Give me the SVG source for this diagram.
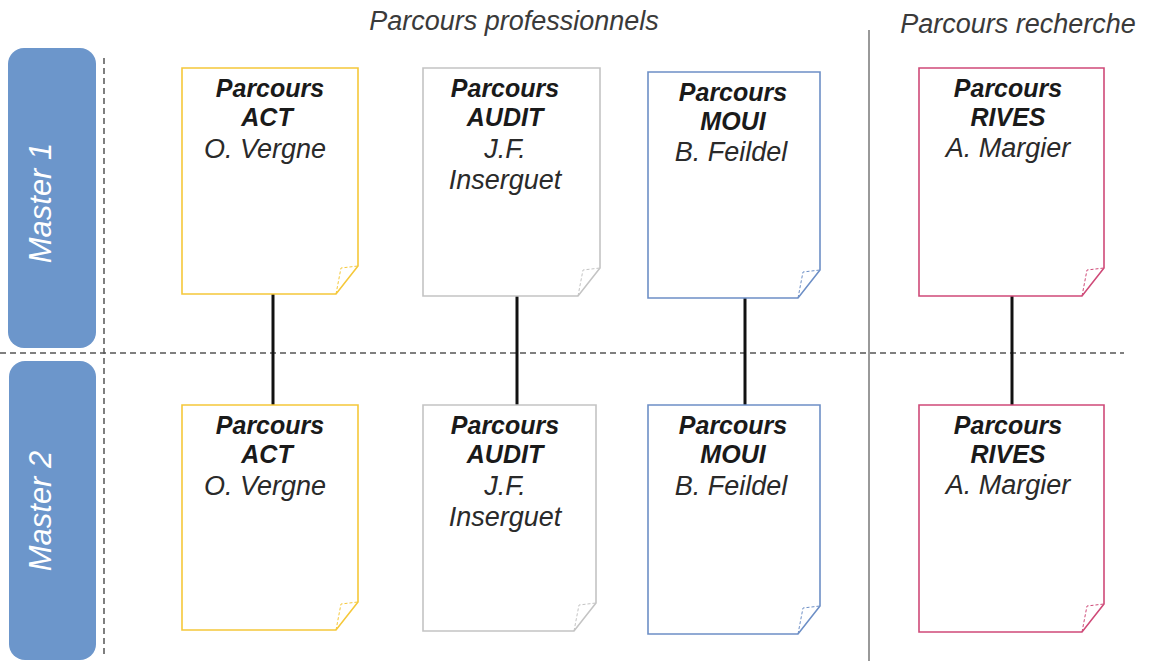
<svg xmlns="http://www.w3.org/2000/svg" width="1149" height="661" viewBox="0 0 1149 661">
<style>
.bg{fill:#ffffff}
.doc{fill:#ffffff;stroke-width:1.6}
.fold{fill:none;stroke-width:1;stroke-dasharray:3,2}
.y{stroke:#f5c83a}
.g{stroke:#c4c4c4}
.b{stroke:#6d8fc6}
.p{stroke:#cf4a78}
.t1{font-family:"Liberation Sans",Arial,sans-serif;font-style:italic;font-weight:bold;font-size:25px;fill:#1a1a1a;text-anchor:middle}
.t2{font-family:"Liberation Sans",Arial,sans-serif;font-style:italic;font-size:27px;fill:#2a2a2a;text-anchor:middle}
.hdr{font-family:"Liberation Sans",Arial,sans-serif;font-style:italic;font-size:27px;fill:#3a3a3a;text-anchor:middle}
.mbox{fill:#6c96cb}
.mtxt{font-family:"Liberation Sans",Arial,sans-serif;font-style:italic;font-size:31px;fill:#ffffff;text-anchor:middle}
.dash{stroke:#555555;stroke-width:1.5;stroke-dasharray:6,4;fill:none}
.conn{stroke:#111111;stroke-width:3;fill:none}
</style>
<rect class="bg" x="0" y="0" width="1149" height="661"/>

<g id="headers">
<text class="hdr" x="514" y="30">Parcours professionnels</text>
<text class="hdr" x="1018" y="33">Parcours recherche</text>
</g>

<g id="grid">
<line class="dash" x1="104" y1="58" x2="104" y2="655"/>
<line class="dash" x1="0" y1="353" x2="1124" y2="353"/>
<line x1="869" y1="30" x2="869" y2="661" stroke="#777777" stroke-width="1.5"/>
</g>

<g id="master1">
<rect class="mbox" x="8" y="48" width="88" height="300" rx="16"/>
<text class="mtxt" transform="translate(51,203) rotate(-90)">Master 1</text>
</g>
<g id="master2">
<rect class="mbox" x="9" y="361" width="87" height="299" rx="16"/>
<text class="mtxt" transform="translate(51,511) rotate(-90)">Master 2</text>
</g>

<g id="connectors">
<line class="conn" x1="273" y1="294" x2="273" y2="405"/>
<line class="conn" x1="517" y1="296" x2="517" y2="405"/>
<line class="conn" x1="745" y1="298" x2="745" y2="405"/>
<line class="conn" x1="1012" y1="296" x2="1012" y2="405"/>
</g>

<g id="act1">
<path class="doc y" d="M182 68 H358 V266 L336 294 H182 Z"/>
<path class="fold y" d="M336 294 L341 268 L358 266"/>
<text class="t1" x="270" y="97">Parcours</text>
<text class="t1" x="267" y="126">ACT</text>
<text class="t2" x="265" y="158">O. Vergne</text>
</g>
<g id="audit1">
<path class="doc g" d="M423 68 H600 V268 L578 296 H423 Z"/>
<path class="fold g" d="M578 296 L583 270 L600 268"/>
<text class="t1" x="505" y="97">Parcours</text>
<text class="t1" x="505" y="126">AUDIT</text>
<text class="t2" x="505" y="158">J.F.</text>
<text class="t2" x="505" y="189">Inserguet</text>
</g>
<g id="moui1">
<path class="doc b" d="M648 72 H820 V270 L798 298 H648 Z"/>
<path class="fold b" d="M798 298 L803 272 L820 270"/>
<text class="t1" x="733" y="101">Parcours</text>
<text class="t1" x="733" y="130">MOUI</text>
<text class="t2" x="731" y="161">B. Feildel</text>
</g>
<g id="rives1">
<path class="doc p" d="M919 68 H1104 V268 L1082 296 H919 Z"/>
<path class="fold p" d="M1082 296 L1087 270 L1104 268"/>
<text class="t1" x="1008" y="97">Parcours</text>
<text class="t1" x="1008" y="126">RIVES</text>
<text class="t2" x="1008" y="157">A. Margier</text>
</g>

<g id="act2">
<path class="doc y" d="M182 405 H358 V602 L336 630 H182 Z"/>
<path class="fold y" d="M336 630 L341 604 L358 602"/>
<text class="t1" x="270" y="434">Parcours</text>
<text class="t1" x="267" y="463">ACT</text>
<text class="t2" x="265" y="495">O. Vergne</text>
</g>
<g id="audit2">
<path class="doc g" d="M423 405 H596 V603 L574 631 H423 Z"/>
<path class="fold g" d="M574 631 L579 605 L596 603"/>
<text class="t1" x="505" y="434">Parcours</text>
<text class="t1" x="505" y="463">AUDIT</text>
<text class="t2" x="505" y="495">J.F.</text>
<text class="t2" x="505" y="526">Inserguet</text>
</g>
<g id="moui2">
<path class="doc b" d="M648 405 H820 V606 L798 634 H648 Z"/>
<path class="fold b" d="M798 634 L803 608 L820 606"/>
<text class="t1" x="733" y="434">Parcours</text>
<text class="t1" x="733" y="463">MOUI</text>
<text class="t2" x="731" y="495">B. Feildel</text>
</g>
<g id="rives2">
<path class="doc p" d="M919 405 H1104 V604 L1082 632 H919 Z"/>
<path class="fold p" d="M1082 632 L1087 606 L1104 604"/>
<text class="t1" x="1008" y="434">Parcours</text>
<text class="t1" x="1008" y="463">RIVES</text>
<text class="t2" x="1008" y="494">A. Margier</text>
</g>
</svg>
